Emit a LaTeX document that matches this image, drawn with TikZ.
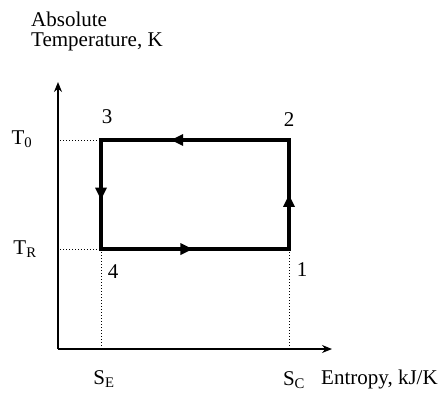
\documentclass[tikz,border=0pt]{standalone}
\usepackage{fontspec}
\setmainfont{Liberation Serif}
\usetikzlibrary{arrows.meta,decorations.markings}
\begin{document}
\begin{tikzpicture}[x=1pt,y=-1pt,
  lbl/.style={font=\fontsize{21}{24}\selectfont, inner sep=0pt},
  axisline/.style={line width=1.2pt, -{Stealth[length=10pt,width=8pt]}},
  guide/.style={line width=1pt, dash pattern=on 1pt off 2pt},
  cycle/.style={line width=3.4pt, line join=miter, line cap=rect},
  midarrow/.style={postaction={decorate, decoration={markings,
     mark=at position #1 with {\fill (5pt,0) -- (-7pt,6pt) -- (-7pt,-6pt) -- cycle;}}}}
]
\useasboundingbox (0,0) rectangle (443,392);
\coordinate (O) at (58,349);
\coordinate (ytop) at (58,82);
\coordinate (xend) at (332,349);
\coordinate (p3) at (101,140);
\coordinate (p2) at (289,140);
\coordinate (p1) at (289,249);
\coordinate (p4) at (101,249);
\coordinate (t0) at (60,140);
\coordinate (tr) at (60,249);
\coordinate (se) at (101,349);
\coordinate (sc) at (289,349);

\draw[axisline] (O) -- (ytop);
\draw[axisline] (O) -- (xend);

\draw[guide] (t0) -- (p3);
\draw[guide] (tr) -- (p4);
\draw[guide] (p4) -- (se);
\draw[guide] (p1) -- (sc);

\draw[cycle, midarrow=0.6] (p2) -- (p3);
\draw[cycle, midarrow=0.5] (p3) -- (p4);
\draw[cycle, midarrow=0.46] (p4) -- (p1);
\draw[cycle, midarrow=0.45] (p1) -- (p2);

\node[lbl, anchor=west] (abs) at (31,19) {Absolute};
\node[lbl, anchor=west] (temp) at (31,42) {Temperature, K};
\node[lbl] (n3) at (107,117) {3};
\node[lbl] (n2) at (289,120) {2};
\node[lbl] (n4) at (113,272) {4};
\node[lbl] (n1) at (302,270) {1};
\node[lbl] (T0) at (22,139) {T\textsubscript{0}};
\node[lbl] (TR) at (25,249) {T\textsubscript{R}};
\node[lbl] (SE) at (104,379) {S\textsubscript{E}};
\node[lbl] (SC) at (294,380) {S\textsubscript{C}};
\node[lbl, anchor=west] (ent) at (321,379) {Entropy, kJ/K};
\end{tikzpicture}
\end{document}
